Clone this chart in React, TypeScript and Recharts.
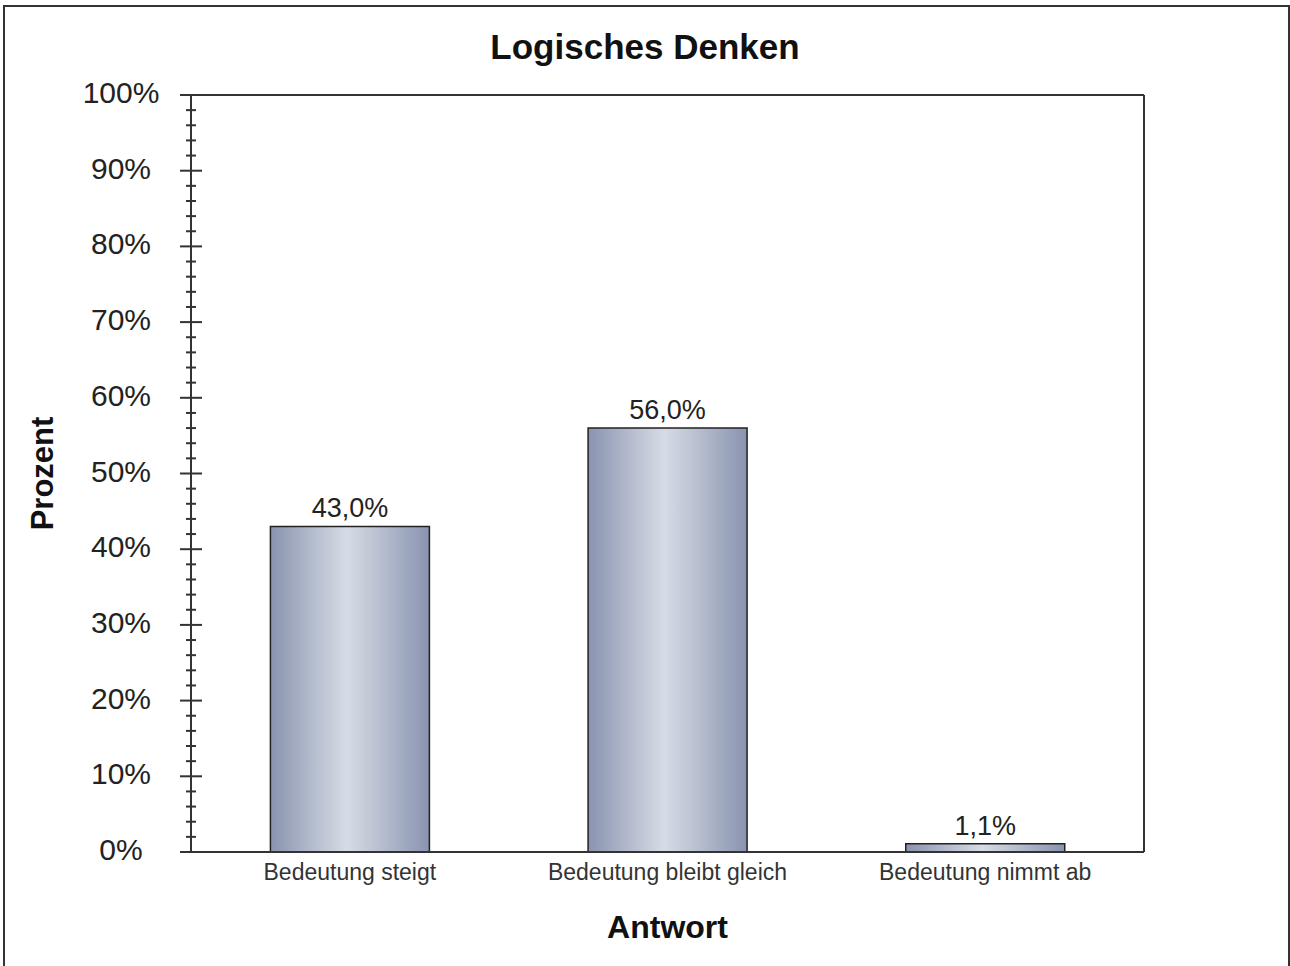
import {
  BarChart,
  Bar,
  XAxis,
  YAxis,
  LabelList,
  Label,
  ReferenceLine,
} from "recharts";

const categories = ["Bedeutung steigt", "Bedeutung bleibt gleich", "Bedeutung nimmt ab"];
const percentages = [43.0, 56.0, 1.1];
const yMajorTicks = [0, 10, 20, 30, 40, 50, 60, 70, 80, 90, 100];

// minor ticks every 2% between the labelled ones
const yAllTicks = yMajorTicks
  .slice(0, -1)
  .flatMap((t) => [t, t + 2, t + 4, t + 6, t + 8])
  .concat([100]);

const data = categories.map((name, i) => ({ name, value: percentages[i] }));

const FONT = '"Liberation Sans", Arial, sans-serif';
const AXIS = "#333";

const fmt = (v: number) => v.toFixed(1).replace(".", ",") + "%";

function LeftTick(props: any) {
  const { x, y, payload } = props;
  const major = payload.value % 10 === 0;
  const len = major ? 11 : 5;
  return (
    <g>
      <line x1={x - len} x2={x + len} y1={y} y2={y} stroke={AXIS} strokeWidth={2} />
      {major && (
        <text x={x - 70} y={y + 8} textAnchor="middle" fontSize={30} fill="#222" fontFamily={FONT}>
          {payload.value + "%"}
        </text>
      )}
    </g>
  );
}

function RightTick(props: any) {
  const { x, y, payload } = props;
  const major = payload.value % 10 === 0;
  const len = major ? 12 : 5;
  return <line x1={x - len} x2={x} y1={y} y2={y} stroke={AXIS} strokeWidth={2} />;
}

function CatTick(props: any) {
  const { x, y, payload } = props;
  return (
    <text x={x} y={y + 28} textAnchor="middle" fontSize={23} fill="#333" fontFamily={FONT}>
      {payload.value}
    </text>
  );
}

export default function App() {
  return (
    <div
      style={{
        position: "absolute",
        left: 0,
        top: 0,
        width: 1290,
        height: 966,
        background: "#fff",
        overflow: "hidden",
        fontFamily: FONT,
      }}
    >
      <div
        style={{
          position: "absolute",
          left: 3,
          top: 5,
          width: 1283,
          height: 980,
          border: "2px solid #333",
        }}
      />
      <div
        style={{
          position: "absolute",
          left: 0,
          top: 29,
          width: 1290,
          textAlign: "center",
          fontSize: 35,
          lineHeight: "35px",
          fontWeight: "bold",
          color: "#111",
        }}
      >
        Logisches Denken
      </div>
      <div style={{ position: "absolute", left: 0, top: 0 }}>
        <BarChart
          width={1290}
          height={966}
          data={data}
          margin={{ top: 95, right: 0, bottom: 0, left: 0 }}
          barCategoryGap="25%"
        >
          <defs>
            <linearGradient id="barGrad" x1="0" y1="0" x2="1" y2="0">
              <stop offset="0%" stopColor="#8a93b0" />
              <stop offset="48%" stopColor="#d6dce5" />
              <stop offset="100%" stopColor="#8a93b0" />
            </linearGradient>
          </defs>
          <XAxis
            dataKey="name"
            height={114}
            tickLine={false}
            tickSize={0}
            tickMargin={0}
            tick={<CatTick />}
            axisLine={{ stroke: AXIS, strokeWidth: 2 }}
          >
            <Label
              content={(p: any) => {
                const vb = p.viewBox;
                return (
                  <text
                    x={vb.x + vb.width / 2}
                    y={vb.y + 86}
                    textAnchor="middle"
                    fontSize={32}
                    fontWeight="bold"
                    fill="#111"
                    fontFamily={FONT}
                  >
                    Antwort
                  </text>
                );
              }}
            />
          </XAxis>
          <YAxis
            yAxisId="left"
            width={191}
            domain={[0, 100]}
            ticks={yAllTicks}
            interval={0}
            tickLine={false}
            tickSize={0}
            tickMargin={0}
            tick={<LeftTick />}
            axisLine={{ stroke: AXIS, strokeWidth: 2 }}
          >
            <Label
              content={(p: any) => {
                const vb = p.viewBox;
                const cx = vb.x + 53;
                const cy = vb.y + vb.height / 2;
                return (
                  <text
                    x={cx}
                    y={cy}
                    transform={`rotate(-90, ${cx}, ${cy})`}
                    textAnchor="middle"
                    fontSize={31}
                    fontWeight="bold"
                    fill="#111"
                    fontFamily={FONT}
                  >
                    Prozent
                  </text>
                );
              }}
            />
          </YAxis>
          <YAxis
            yAxisId="right"
            orientation="right"
            width={146}
            domain={[0, 100]}
            ticks={yAllTicks}
            interval={0}
            tickLine={false}
            tickSize={0}
            tickMargin={0}
            tick={<RightTick />}
            axisLine={{ stroke: AXIS, strokeWidth: 2 }}
          />
          <ReferenceLine yAxisId="left" y={100} stroke={AXIS} strokeWidth={2} />
          <Bar
            yAxisId="left"
            dataKey="value"
            fill="url(#barGrad)"
            stroke="#222"
            strokeWidth={1.5}
            isAnimationActive={false}
          >
            <LabelList
              dataKey="value"
              position="top"
              offset={9}
              formatter={(v: any) => fmt(Number(v))}
              fontSize={27}
              fill="#222"
              fontFamily={FONT}
            />
          </Bar>
        </BarChart>
      </div>
    </div>
  );
}
